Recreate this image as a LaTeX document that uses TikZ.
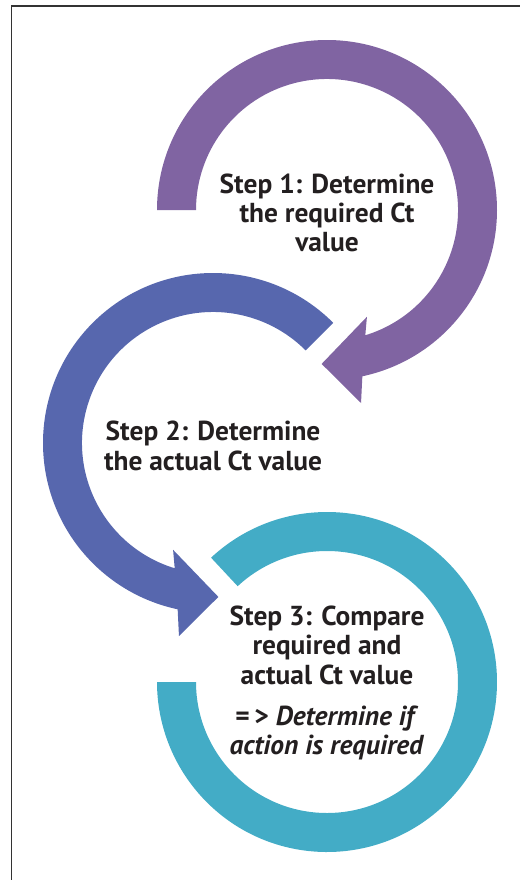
\documentclass[tikz,border=0pt]{standalone}
\usepackage{fontspec}
\setmainfont{PT Sans}
\usepackage{tikz}
\usetikzlibrary{positioning}
\usetikzlibrary{calc}
\definecolor{ringpurple}{HTML}{8064A2}
\definecolor{ringblue}{HTML}{5767AE}
\definecolor{ringteal}{HTML}{43ACC6}
\definecolor{steptext}{HTML}{231F20}

\begin{document}
\begin{tikzpicture}[
purplering/.style={fill=ringpurple},
bluering/.style={fill=ringblue},
tealring/.style={fill=ringteal},
stepnode/.style={align=center, text=steptext, font=\bfseries\fontsize{15.6}{16.7}\selectfont, inner sep=0pt},
framelines/.style={draw=black!80, line width=0.85pt},
]
\useasboundingbox (0,0) rectangle (10.4,-17.6);
%Frame
\draw[framelines] (0.23,-17.6) -- (0.23,-0.12) -- (10.4,-0.12);
%Centres
\coordinate (c1) at (6.54,-4.20);
\coordinate (c2) at (4.26,-8.86);
\coordinate (c3) at (6.54,-13.64);
%Rings
\begin{scope}[shift={(c1)}]
\fill[purplering] (180:3.4) arc[start angle=180, end angle=-78, radius=3.4]
  -- (-80:3.92) -- (-92:3.08) -- (-69.5:2.28) -- (-73:2.62)
  arc[start angle=-73, end angle=180, radius=2.62] -- cycle;
\end{scope}
\begin{scope}[shift={(c2)}]
\fill[bluering] (45:3.4) arc[start angle=45, end angle=258, radius=3.4]
  -- (260:3.92) -- (272:3.08) -- (249.5:2.28) -- (253:2.62)
  arc[start angle=253, end angle=45, radius=2.62] -- cycle;
\end{scope}
\begin{scope}[shift={(c3)}]
\fill[tealring] (133:3.4) arc[start angle=133, end angle=-180, radius=3.4]
  -- (-180:2.62) arc[start angle=-180, end angle=133, radius=2.62] -- cycle;
\end{scope}
%Text
\node[stepnode] (step1) at ($(c1)+(0,-0.06)$) {Step 1: Determine\\the required Ct\\value};
\node[stepnode] (step2) at ($(c2)+(0,-0.06)$) {Step 2: Determine\\the actual Ct value};
\node[stepnode] (step3) at ($(c3)+(0,-0.02)$) {Step 3: Compare\\required and\\actual Ct value\\[6.5pt]=\,> \textit{Determine if}\\\textit{action is required}};
\end{tikzpicture}
\end{document}
